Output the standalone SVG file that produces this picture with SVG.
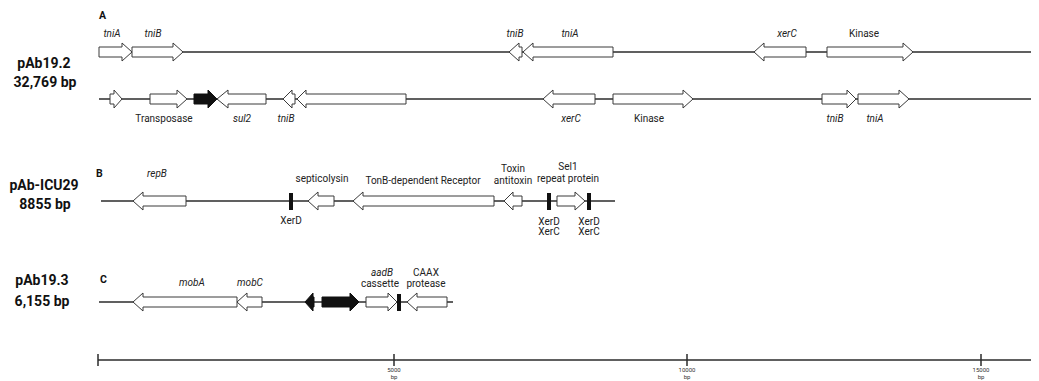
<svg xmlns="http://www.w3.org/2000/svg" width="1039" height="381" viewBox="0 0 1039 381">
<style>
.bg{fill:#fff}
.bb{stroke:#2b2b2b;stroke-width:1.5;fill:none}
.g{fill:#fff;stroke:#3a3a3a;stroke-width:1}
.k{fill:#111;stroke:#111;stroke-width:1}
.bar{fill:#111}
text{font-family:Roboto,"Liberation Sans",sans-serif;fill:#222}
.t{font-size:10px;text-anchor:middle}
.i{font-size:10px;text-anchor:middle;font-style:italic}
.n{font-size:14px;font-weight:bold;text-anchor:middle;fill:#111}
.p{font-size:10.5px;font-weight:bold;fill:#111}
.ax{font-size:6px;text-anchor:middle;fill:#333}
</style>
<rect class="bg" x="0" y="0" width="1039" height="381"/>
<g id="connectors">
<line class="bb" x1="99" y1="52" x2="1031" y2="52"/>
<line class="bb" x1="99" y1="99" x2="1031" y2="99"/>
<line class="bb" x1="101" y1="201" x2="615" y2="201"/>
<line class="bb" x1="99" y1="302" x2="453" y2="302"/>
<line class="bb" x1="98" y1="360" x2="1031" y2="360"/>
<line class="bb" x1="98" y1="354" x2="98" y2="366"/>
<line class="bb" x1="394" y1="354" x2="394" y2="366"/>
<line class="bb" x1="687" y1="354" x2="687" y2="366"/>
<line class="bb" x1="981" y1="354" x2="981" y2="366"/>
</g>
<g id="labels">
<text class="n" x="44" y="68">pAb19.2</text>
<text class="n" x="45" y="87">32,769 bp</text>
<text class="n" x="44" y="190">pAb-ICU29</text>
<text class="n" x="45" y="209">8855 bp</text>
<text class="n" x="42" y="285">pAb19.3</text>
<text class="n" x="42" y="306">6,155 bp</text>
<text class="p" x="99" y="19">A</text>
<text class="p" x="96" y="177">B</text>
<text class="p" x="100" y="283">C</text>
</g>
<g id="rowA1">
<polygon class="g" points="99,47 122,47 122,43 132,52 122,61 122,57 99,57"/>
<polygon class="g" points="132,47 173,47 173,43 183,52 173,61 173,57 132,57"/>
<polygon class="g" points="522,47 519,47 519,43 509,52 519,61 519,57 522,57"/>
<polygon class="g" points="613,47 533,47 533,43 523,52 533,61 533,57 613,57"/>
<polygon class="g" points="806,47 764,47 764,43 754,52 764,61 764,57 806,57"/>
<polygon class="g" points="827,47 903,47 903,43 913,52 903,61 903,57 827,57"/>
<text class="i" x="112" y="37">tniA</text>
<text class="i" x="153" y="37">tniB</text>
<text class="i" x="515" y="37">tniB</text>
<text class="i" x="570" y="37">tniA</text>
<text class="i" x="787" y="37">xerC</text>
<text class="t" x="864" y="37">Kinase</text>
</g>
<g id="rowA2">
<polygon class="g" points="110,94 114,94 114,90 122,99 114,108 114,104 110,104"/>
<polygon class="g" points="150,94 177,94 177,90 187,99 177,108 177,104 150,104"/>
<polygon class="k" points="194,94 208,94 208,90 217,99 208,108 208,104 194,104"/>
<polygon class="g" points="266,94 228,94 228,90 217,99 228,108 228,104 266,104"/>
<polygon class="g" points="295,94 292,94 292,90 283,99 292,108 292,104 295,104"/>
<polygon class="g" points="406,94 306,94 306,90 297,99 306,108 306,104 406,104"/>
<polygon class="g" points="595,94 553,94 553,90 543,99 553,108 553,104 595,104"/>
<polygon class="g" points="613,94 683,94 683,90 693,99 683,108 683,104 613,104"/>
<polygon class="g" points="822,94 847,94 847,90 856,99 847,108 847,104 822,104"/>
<polygon class="g" points="858,94 899,94 899,90 909,99 899,108 899,104 858,104"/>
<text class="t" x="164" y="122">Transposase</text>
<text class="i" x="242" y="122">sul2</text>
<text class="i" x="286" y="122">tniB</text>
<text class="i" x="571" y="122">xerC</text>
<text class="t" x="649" y="122">Kinase</text>
<text class="i" x="835" y="122">tniB</text>
<text class="i" x="875" y="122">tniA</text>
</g>
<g id="rowB">
<polygon class="g" points="186,196 143,196 143,192 133,201 143,210 143,206 186,206"/>
<rect class="bar" x="289" y="193" width="4" height="17"/>
<polygon class="g" points="334,196 318,196 318,192 308,201 318,210 318,206 334,206"/>
<polygon class="g" points="494,196 363,196 363,192 353,201 363,210 363,206 494,206"/>
<polygon class="g" points="522,196 513,196 513,192 504,201 513,210 513,206 522,206"/>
<rect class="bar" x="547" y="193" width="4" height="17"/>
<polygon class="g" points="557,196 575,196 575,192 585,201 575,210 575,206 557,206"/>
<rect class="bar" x="587" y="193" width="4" height="17"/>
<text class="i" x="157" y="177">repB</text>
<text class="t" x="322" y="182">septicolysin</text>
<text class="t" x="423" y="184">TonB-dependent Receptor</text>
<text class="t" x="513" y="172">Toxin</text>
<text class="t" x="513" y="184">antitoxin</text>
<text class="t" x="568" y="170">Sel1</text>
<text class="t" x="568" y="182">repeat protein</text>
<text class="t" x="291" y="224">XerD</text>
<text class="t" x="549" y="225">XerD</text>
<text class="t" x="549" y="235">XerC</text>
<text class="t" x="589" y="225">XerD</text>
<text class="t" x="589" y="235">XerC</text>
</g>
<g id="rowC">
<polygon class="g" points="237,297 143,297 143,293 133,302 143,311 143,307 237,307"/>
<polygon class="g" points="262,297 247,297 247,293 237,302 247,311 247,307 262,307"/>
<polygon class="k" points="314,297 313,297 313,293 305,302 313,311 313,307 314,307"/>
<polygon class="k" points="322,297 350,297 350,293 359,302 350,311 350,307 322,307"/>
<polygon class="g" points="366,297 388,297 388,293 397,302 388,311 388,307 366,307"/>
<rect class="bar" x="397" y="294" width="4" height="17"/>
<polygon class="g" points="447,297 417,297 417,293 407,302 417,311 417,307 447,307"/>
<text class="i" x="192" y="286">mobA</text>
<text class="i" x="250" y="286">mobC</text>
<text class="i" x="382" y="276">aadB</text>
<text class="t" x="380" y="287">cassette</text>
<text class="t" x="426" y="276">CAAX</text>
<text class="t" x="426" y="287">protease</text>
</g>
<g id="axis">
<text class="ax" x="394" y="372">5000</text>
<text class="ax" x="394" y="379">bp</text>
<text class="ax" x="687" y="372">10000</text>
<text class="ax" x="687" y="379">bp</text>
<text class="ax" x="981" y="372">15000</text>
<text class="ax" x="981" y="379">bp</text>
</g>
</svg>
